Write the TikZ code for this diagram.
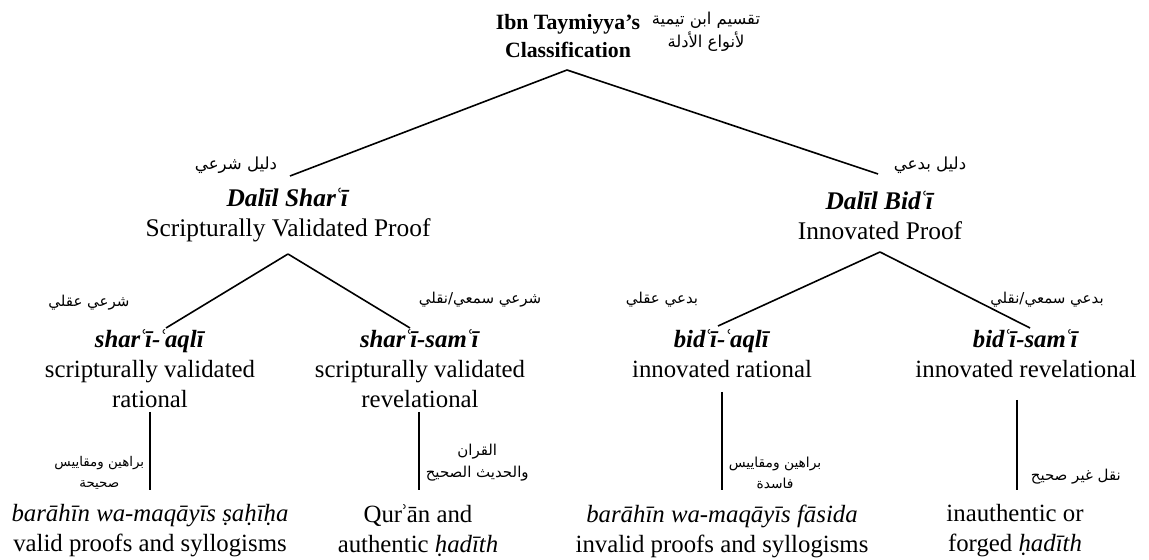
\documentclass[tikz,border=0pt]{standalone}
\usepackage{fontspec}
\setmainfont{Liberation Serif}
\newfontfamily\arabicfont[Script=Arabic]{DejaVu Sans}
\TeXXeTstate=1
\newcommand{\ar}[1]{\beginR #1\endR}
\newcommand{\ayn}{\kern-0.07emʿ\kern-0.07em}
\newcommand{\hmz}{\kern-0.07emʾ\kern-0.07em}
\begin{document}
\begin{tikzpicture}[x=0.5pt,y=-0.5pt,thick,
  term node/.style={align=center,inner sep=0pt,font=\fontsize{12.4}{15}\selectfont},
  ar node/.style={align=center,inner sep=0pt,font=\arabicfont\fontsize{7.5}{11}\selectfont}]
  	\useasboundingbox (0,0) rectangle (1149,560);
  	
  	% root
  	\node[term node,font=\bfseries\fontsize{10.9}{14}\selectfont] at (568,36) (root) {Ibn Taymiyya’s\\Classification};
  	\node[ar node,font=\arabicfont\fontsize{8.2}{11.5}\selectfont] at (706,32) (rootar) {\ar{تقسيم ابن تيمية}\\\ar{لأنواع الأدلة}};
  	
  	% second level
  	\node[term node,font=\fontsize{12.7}{15}\selectfont] at (288,215) (shar) {\textbf{\textit{Dalīl Shar\ayn ī}}\\Scripturally Validated Proof};
  	\node[ar node,font=\arabicfont\fontsize{8.3}{11}\selectfont] at (236,165) (sharar) {\ar{دليل شرعي}};
  	\node[term node,font=\fontsize{12.7}{15}\selectfont] at (880,215) (bid) {\textbf{\textit{Dalīl Bid\ayn ī}}\\Innovated Proof};
  	\node[ar node,font=\arabicfont\fontsize{8.3}{11}\selectfont] at (930,165) (bidar) {\ar{دليل بدعي}};
  	
  	% third level
  	\node[term node] at (150,369) (sa) {\textbf{\textit{shar\ayn ī-\ayn aqlī}}\\scripturally validated\\rational};
  	\node[ar node] at (89,303) (saar) {\ar{شرعي عقلي}};
  	\node[term node] at (420,369) (ss) {\textbf{\textit{shar\ayn ī-sam\ayn ī}}\\scripturally validated\\revelational};
  	\node[ar node] at (480,300) (ssar) {\ar{شرعي سمعي/نقلي}};
  	\node[term node] at (722,354) (ba) {\textbf{\textit{bid\ayn ī-\ayn aqlī}}\\innovated rational};
  	\node[ar node] at (662,300) (baar) {\ar{بدعي عقلي}};
  	\node[term node] at (1026,354) (bs) {\textbf{\textit{bid\ayn ī-sam\ayn ī}}\\innovated revelational};
  	\node[ar node] at (1047,300) (bsar) {\ar{بدعي سمعي/نقلي}};
  	
  	% fourth level
  	\node[term node] at (150,531) (saleaf) {\textit{barāhīn wa-maqāyīs ṣaḥīḥa}\\valid proofs and syllogisms};
  	\node[ar node,font=\arabicfont\fontsize{6.7}{10.5}\selectfont,anchor=east] at (145,473) (saleafar) {\ar{براهين ومقاييس}\\\ar{صحيحة}};
  	\node[term node] at (418,531) (ssleaf) {Qur\hmz ān and\\authentic \textit{ḥadīth}};
  	\node[ar node,anchor=west] at (425,463) (ssleafar) {\ar{القران}\\\ar{والحديث الصحيح}};
  	\node[term node] at (722,531) (baleaf) {\textit{barāhīn wa-maqāyīs fāsida}\\invalid proofs and syllogisms};
  	\node[ar node,font=\arabicfont\fontsize{6.9}{10.5}\selectfont,anchor=west] at (728,473) (baleafar) {\ar{براهين ومقاييس}\\\ar{فاسدة}};
  	\node[term node] at (1015,531) (bsleaf) {inauthentic or\\forged \textit{ḥadīth}};
  	\node[ar node,anchor=west] at (1030,477) (bsleafar) {\ar{نقل غير صحيح}};
  	
  	% branch points
  	\coordinate (r0) at (567,70);
  	\coordinate (r1) at (290,176);
  	\coordinate (r2) at (878,174);
  	\coordinate (s0) at (288,254);
  	\coordinate (s1) at (166,328);
  	\coordinate (s2) at (410,328);
  	\coordinate (b0) at (880,252);
  	\coordinate (b1) at (718,326);
  	\coordinate (b2) at (1030,328);
  	\coordinate (sa0) at (150,412);
  	\coordinate (sa1) at (150,490);
  	\coordinate (ss0) at (419,412);
  	\coordinate (ss1) at (419,490);
  	\coordinate (ba0) at (722,392);
  	\coordinate (ba1) at (722,490);
  	\coordinate (bs0) at (1017,400);
  	\coordinate (bs1) at (1017,490);
  	
  	\path[-]
  	(r0) edge (r1)
  	(r0) edge (r2)
  	
  	(s0) edge (s1)
  	(s0) edge (s2)
  	
  	(b0) edge (b1)
  	(b0) edge (b2)
  	
  	(sa0) edge (sa1)
  	(ss0) edge (ss1)
  	(ba0) edge (ba1)
  	(bs0) edge (bs1);
\end{tikzpicture}
\end{document}
